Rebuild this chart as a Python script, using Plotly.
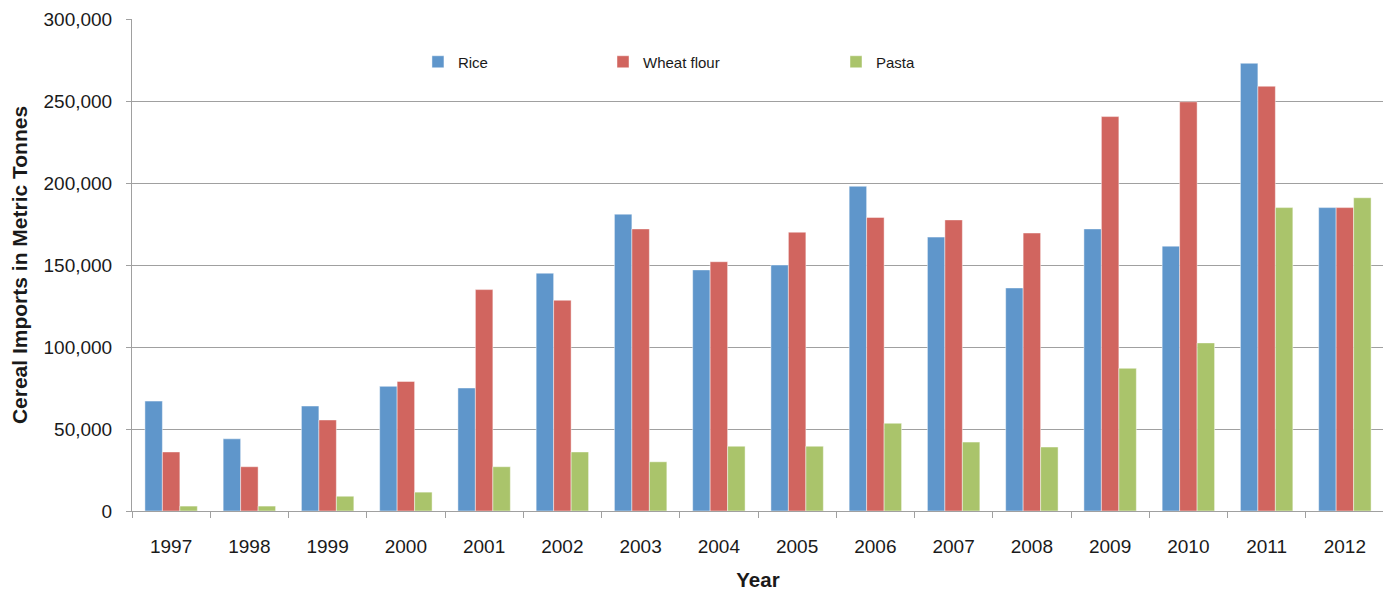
import plotly.graph_objects as go

years = ["1997", "1998", "1999", "2000", "2001", "2002", "2003", "2004",
         "2005", "2006", "2007", "2008", "2009", "2010", "2011", "2012"]
rice = [67000, 44000, 64000, 76000, 75000, 145000, 181000, 147000,
        150000, 198000, 167000, 136000, 172000, 161500, 273000, 185000]
wheat_flour = [36000, 27000, 55500, 79000, 135000, 128500, 172000, 152000,
               170000, 179000, 177500, 169500, 240500, 249500, 259000, 185000]
pasta = [3000, 3000, 9000, 11500, 27000, 36000, 30000, 39500,
         39500, 53500, 42000, 39000, 87000, 102500, 185000, 191000]

colors = ["#5F96CB", "#D1655F", "#AAC46B"]
font_family = "Liberation Sans, Arial, sans-serif"

fig = go.Figure()
series = [("Rice", rice, "legend"), ("Wheat flour", wheat_flour, "legend2"), ("Pasta", pasta, "legend3")]
for (name, vals, lg), c in zip(series, colors):
    fig.add_trace(go.Bar(
        x=years, y=vals, name=name, legend=lg, showlegend=True,
        marker=dict(color=c, line=dict(color="rgba(255,255,255,0.45)", width=1)),
    ))

leg_common = dict(orientation="h", yanchor="middle", y=0.9126, xanchor="left",
                  bgcolor="rgba(0,0,0,0)", font=dict(family=font_family, size=15, color="#1a1a1a"),
                  itemwidth=30, visible=True)
fig.update_layout(
    showlegend=True,
    barmode="group",
    bargap=0.33,
    bargroupgap=0,
    width=1383, height=584,
    margin=dict(l=124, r=7, t=11, b=81, autoexpand=False),
    paper_bgcolor="white", plot_bgcolor="white",
    font=dict(family=font_family, color="#1a1a1a"),
    legend=dict(x=0.2284, **leg_common),
    legend2=dict(x=0.3762, **leg_common),
    legend3=dict(x=0.5623, **leg_common),
    xaxis=dict(
        type="category",
        automargin=False,
        tickson="boundaries",
        ticks="outside", ticklen=6, tickcolor="#A0A0A0",
        showline=True, linecolor="#A0A0A0", linewidth=1,
        tickfont=dict(size=19, family=font_family, color="#1a1a1a"),
        ticklabelstandoff=18,
        title=dict(text="<b>Year</b>", font=dict(size=20.5, family=font_family), standoff=16),
    ),
    yaxis=dict(
        automargin=False,
        range=[0, 300000],
        tickvals=[0, 50000, 100000, 150000, 200000, 250000, 300000],
        ticktext=["0", "50,000", "100,000", "150,000", "200,000", "250,000", "300,000"],
        ticks="outside", ticklen=5, tickcolor="#A0A0A0",
        showline=True, linecolor="#A0A0A0", linewidth=1,
        showgrid=True, gridcolor="#A0A0A0", gridwidth=1,
        zeroline=False,
        tickfont=dict(size=19, family=font_family, color="#1a1a1a"),
        ticklabelstandoff=10,
        title=dict(text="<b>Cereal Imports in Metric Tonnes</b>", font=dict(size=21, family=font_family), standoff=12),
    ),
)

fig.write_html("out.html")
